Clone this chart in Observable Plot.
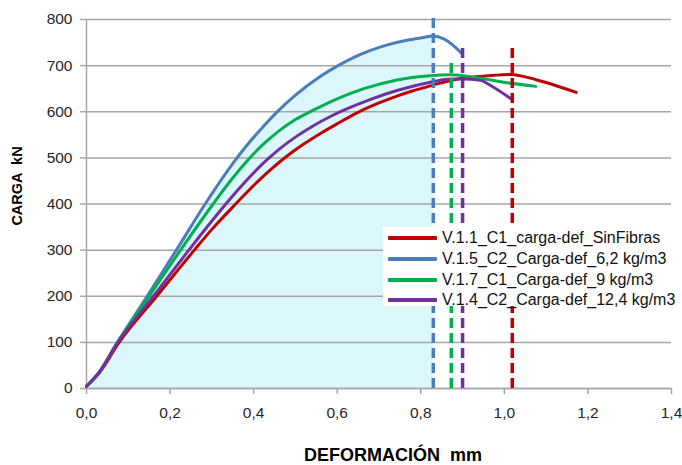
<!DOCTYPE html>
<html>
<head>
<meta charset="utf-8">
<script src="https://cdn.jsdelivr.net/npm/d3@7"></script>
<script src="https://cdn.jsdelivr.net/npm/@observablehq/plot@0.6"></script>
<style>
  html, body { margin: 0; padding: 0; background: #fff; }
  #wrap { position: relative; width: 682px; height: 465px; overflow: hidden; font-family: "Liberation Sans", Arial, sans-serif; }
  #legend { position: absolute; left: 383px; top: 227px; width: 320px; height: 79px; background: #fff; padding-top: 1px; box-sizing: border-box; }
  .row { display: flex; align-items: center; height: 20.7px; }
  .sw { width: 49px; height: 4px; margin-left: 5px; margin-right: 5px; border-radius: 1px; }
  .lab { font-size: 16px; color: #111; white-space: nowrap; }
</style>
</head>
<body>
<div id="wrap"></div>
<script>
// ---- data ----
const seriesNames = [
  "V.1.1_C1_carga-def_SinFibras",
  "V.1.5_C2_Carga-def_6,2 kg/m3",
  "V.1.7_C1_Carga-def_9 kg/m3",
  "V.1.4_C2_Carga-def_12,4 kg/m3"
];
const seriesColors = ["#C00000", "#4A7EBB", "#00B050", "#7030A0"];

// deformation (mm) and load (kN) per series
const redX = [0, 0.03, 0.078, 0.168, 0.258, 0.30, 0.357, 0.40, 0.44, 0.48, 0.52, 0.56, 0.60, 0.644, 0.70, 0.743, 0.78, 0.815, 0.847, 0.895, 0.959, 1.015, 1.078, 1.172];
const redY = [5, 33, 100, 200, 300, 345, 400, 440, 474, 504, 530, 553, 574, 596, 619, 634, 645, 654, 662, 672, 678, 681, 669, 642];

const blueX = [0, 0.03, 0.072, 0.145, 0.215, 0.284, 0.34, 0.38, 0.42, 0.46, 0.50, 0.56, 0.60, 0.64, 0.68, 0.72, 0.767, 0.80, 0.83, 0.855, 0.90];
const blueY = [5, 35, 97, 200, 300, 400, 475, 523, 565, 603, 636, 677, 699, 718, 733, 745, 755, 760, 764, 758, 725];

const greenX = [0, 0.03, 0.074, 0.15, 0.225, 0.303, 0.34, 0.38, 0.42, 0.46, 0.50, 0.544, 0.60, 0.664, 0.743, 0.823, 0.87, 0.919, 0.998, 1.075];
const greenY = [5, 35, 100, 200, 300, 400, 445, 489, 527, 558, 583, 604, 628, 650, 669, 678, 680, 676, 664, 655];

const purpleX = [0, 0.03, 0.075, 0.16, 0.245, 0.30, 0.34, 0.38, 0.42, 0.46, 0.50, 0.54, 0.58, 0.62, 0.68, 0.743, 0.823, 0.871, 0.90, 0.943, 0.967, 1.016];
const purpleY = [5, 35, 100, 200, 300, 363, 407, 448, 486, 518, 545, 568, 588, 605, 627, 646, 664, 671, 671, 668, 657, 628];

// peak markers (dashed verticals): deformation and top of the line (kN)
const peakX = [1.019, 0.83, 0.873, 0.90];
const peakTop = [740, 810, 705, 737];

// shaded area (under blue curve up to its peak)
const shadeEndX = 0.83;

const xTicks = [0, 0.2, 0.4, 0.6, 0.8, 1.0, 1.2, 1.4];
const xTickLabels = ["0,0", "0,2", "0,4", "0,6", "0,8", "1,0", "1,2", "1,4"];
const yTicks = [0, 100, 200, 300, 400, 500, 600, 700, 800];

const xTitle = "DEFORMACIÓN  mm";
const yTitle = "CARGA  kN";

// ---- build ----
const toPts = (xs, ys) => xs.map((x, i) => ({x, y: ys[i]}));
const red = toPts(redX, redY);
const blue = toPts(blueX, blueY);
const green = toPts(greenX, greenY);
const purple = toPts(purpleX, purpleY);
const curves = [red, blue, green, purple];
const peaks = peakX.map((x, i) => ({x, top: peakTop[i], color: seriesColors[i]}));
const shade = blue.filter(d => d.x <= shadeEndX);

const grid = "#a6a6a6";
const tickText = "#262626";

const chart = Plot.plot({
  width: 682,
  height: 465,
  marginLeft: 86,
  marginRight: 11,
  marginTop: 19,
  marginBottom: 77,
  style: {fontFamily: "'Liberation Sans', Arial, sans-serif", background: "transparent", overflow: "visible"},
  x: {domain: [0, 1.4]},
  y: {domain: [0, 800]},
  marks: [
    Plot.areaY(shade, {x: "x", y: "y", fill: "#dcf7fc", curve: "monotone-x"}),
    Plot.gridY(yTicks, {stroke: grid, strokeOpacity: 1, strokeWidth: 1.5}),
    Plot.ruleX([0], {stroke: grid, strokeWidth: 1.5}),
    Plot.ruleY([0], {stroke: grid, strokeWidth: 1.5}),
    Plot.axisY(yTicks, {tickSize: 6, tickPadding: 8, stroke: grid, strokeWidth: 1.5, fill: tickText, fontSize: 15.5, label: null}),
    Plot.axisX(xTicks, {tickSize: 6, tickPadding: 12, stroke: grid, strokeWidth: 1.5, fill: tickText, fontSize: 15.5, label: null,
      tickFormat: d => xTickLabels[xTicks.indexOf(d)]}),
    ...curves.map((c, i) => Plot.line(c, {x: "x", y: "y", stroke: seriesColors[i], strokeWidth: 3, curve: "monotone-x"})),
    Plot.ruleX(peaks, {x: "x", y1: 0, y2: "top", stroke: "color", strokeWidth: 3.5, strokeDasharray: "10,5"}),
    Plot.text([yTitle], {frameAnchor: "left", textAnchor: "middle", lineAnchor: "middle", dx: -69, dy: -18, rotate: -90, fontWeight: "bold", fontSize: 14.5, fill: "#000"}),
    Plot.text([xTitle], {frameAnchor: "bottom", textAnchor: "middle", lineAnchor: "bottom", dx: 14, dy: 72, fontWeight: "bold", fontSize: 18, fill: "#000"})
  ]
});

const wrap = document.getElementById("wrap");
wrap.appendChild(chart);

const legend = document.createElement("div");
legend.id = "legend";
seriesNames.forEach((name, i) => {
  const row = document.createElement("div");
  row.className = "row";
  const sw = document.createElement("div");
  sw.className = "sw";
  sw.style.background = seriesColors[i];
  const lab = document.createElement("span");
  lab.className = "lab";
  lab.textContent = name;
  row.appendChild(sw);
  row.appendChild(lab);
  legend.appendChild(row);
});
wrap.appendChild(legend);
</script>
</body>
</html>
